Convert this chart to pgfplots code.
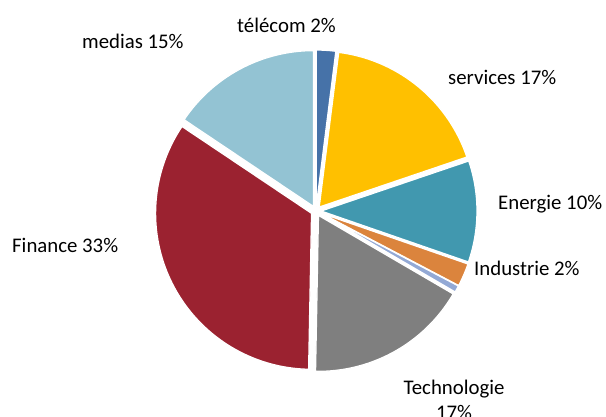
\documentclass[border=0pt]{standalone}
\usepackage{pgfplots}
\pgfplotsset{compat=1.18}
\usepackage{fontspec}
\setmainfont{Carlito}
\definecolor{cTel}{HTML}{4672A8}
\definecolor{cSer}{HTML}{FFC000}
\definecolor{cEne}{HTML}{4198AF}
\definecolor{cInd}{HTML}{DB843D}
\definecolor{cAut}{HTML}{93A9D5}
\definecolor{cTec}{HTML}{7F7F7F}
\definecolor{cFin}{HTML}{9B2230}
\definecolor{cMed}{HTML}{93C3D3}
\tikzset{lbl/.style={font=\fontsize{20.8pt}{25pt}\selectfont, inner sep=0pt}}
% pie geometry (in px-like axis units)
\def\pcx{316}\def\pcy{205}\def\pR{156}\def\pE{5}
% #1 colour, #2 start (cumulative %), #3 value (%)
\newcommand\slice[3]{%
  \pgfmathsetmacro\sA{#2}%
  \pgfmathsetmacro\sB{#2+#3}%
  \pgfmathsetmacro\sM{3.6*(#2+#3/2)}%
  \pgfmathsetmacro\cX{\pcx+\pE*sin(\sM)}%
  \pgfmathsetmacro\cY{\pcy+\pE*cos(\sM)}%
  \edef\next{\noexpand\addplot[fill=#1,draw=white,line width=1.3pt,line join=round,domain=\sA:\sB,samples=80] ({\cX+\pR*sin(3.6*x)},{\cY+\pR*cos(3.6*x)}) -- (\cX,\cY) -- cycle;}%
  \next}
\begin{document}
\begin{tikzpicture}
\useasboundingbox (0,0) rectangle (606pt,416pt);
\begin{axis}[hide axis, scale only axis, width=606pt, height=416pt,
  xmin=0, xmax=606, ymin=0, ymax=416, clip=false]
% values in percent: télécom 2.0, services 17.8, Energie 10.5, Industrie 2.4,
% (autre) 0.7, Technologie 16.9, Finance 34.1, medias 15.6
\slice{cTel}{0}{2.0}
\slice{cSer}{2.0}{17.8}
\slice{cEne}{19.8}{10.5}
\slice{cInd}{30.3}{2.4}
\slice{cAut}{32.7}{0.7}
\slice{cTec}{33.4}{16.9}
\slice{cFin}{50.3}{34.1}
\slice{cMed}{84.4}{15.6}
\node[lbl, anchor=base west] at (237,383) {télécom 2\%};
\node[lbl, anchor=base west] at (82,367) {medias 15\%};
\node[lbl, anchor=base west] at (448,331) {services 17\%};
\node[lbl, anchor=base west] at (498,206.5) {Energie 10\%};
\node[lbl, anchor=base west] at (474,141) {Industrie 2\%};
\node[lbl, anchor=base west] at (12,163.5) {Finance 33\%};
\node[lbl, anchor=base, align=center] at (454,-3) {Technologie\\17\%};
\end{axis}
\end{tikzpicture}
\end{document}
